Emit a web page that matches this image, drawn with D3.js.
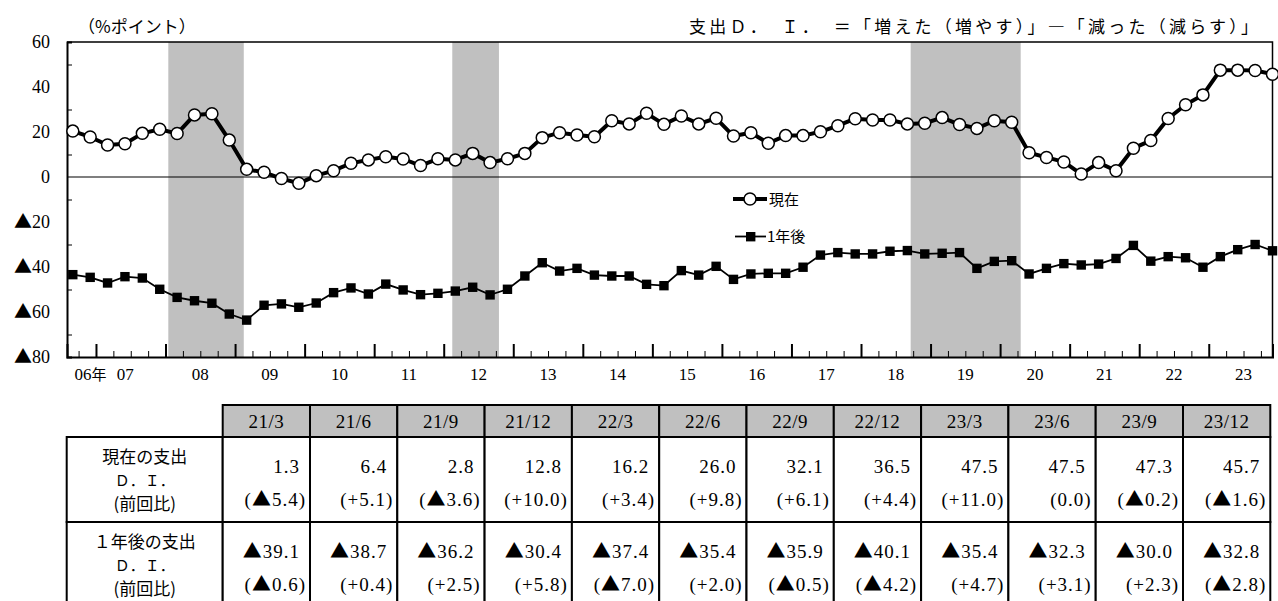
<!DOCTYPE html>
<html><head><meta charset="utf-8">
<script src="https://cdn.jsdelivr.net/npm/d3@7"></script>
<style>
body{margin:0;background:#fff;}
svg{display:block;}
.num{font-family:"Liberation Serif","DejaVu Serif",serif;}
.jp{font-family:"Noto Sans CJK JP","Noto Sans",sans-serif;}
</style></head><body>
<svg id="chart"></svg>
<script>
const W = 1278, H = 601;

// quarterly survey, Sep 2006 .. Dec 2023 (Mar/Jun/Sep/Dec)
const FIRST_YEAR = 2006, FIRST_Q = 2;
const genzai = [
  20.4, 17.8,
  14.2, 14.8, 19.4, 21.2,
  19.3, 27.6, 28.1, 16.4,
  3.4, 2.1, -0.7, -2.8,
  0.6, 2.8, 6.1, 7.6,
  9.0, 8.0, 5.1, 8.1,
  7.6, 10.5, 6.4, 8.1,
  10.5, 17.5, 19.7, 18.7,
  17.9, 25.0, 23.6, 28.3,
  23.4, 27.1, 23.6, 26.1,
  18.2, 19.7, 15.0, 18.4,
  18.4, 20.1, 22.8, 25.9,
  25.3, 25.3, 23.6, 23.9,
  26.4, 23.3, 21.6, 25.0,
  24.3, 10.8, 8.7, 6.7,
  1.3, 6.4, 2.8, 12.8,
  16.2, 26.0, 32.1, 36.5,
  47.5, 47.5, 47.3, 45.7
];
const ichinengo = [
  -43.4, -44.6,
  -47.1, -44.3, -44.9, -49.9,
  -53.5, -55.0, -56.1, -60.9,
  -63.6, -57.0, -56.4, -57.9,
  -56.0, -51.4, -49.3, -52.0,
  -47.6, -50.2, -52.3, -51.7,
  -50.7, -49.0, -52.4, -49.9,
  -44.0, -38.1, -41.8, -40.6,
  -43.6, -44.0, -44.0, -47.7,
  -48.3, -41.6, -43.6, -39.7,
  -45.5, -43.1, -42.8, -42.8,
  -40.1, -34.7, -33.6, -34.2,
  -34.2, -33.0, -32.7, -34.2,
  -33.9, -33.6, -40.6, -37.5,
  -37.2, -43.1, -40.6, -38.5,
  -39.1, -38.7, -36.2, -30.4,
  -37.4, -35.4, -35.9, -40.1,
  -35.4, -32.3, -30.0, -32.8
];
// recession periods (fractional years)
const bands = [[2008.04, 2009.125], [2012.123, 2012.794], [2018.714, 2020.296]];
const yTicks = [60, 40, 20, 0, -20, -40, -60, -80];
const yearLabels = ['06年','07','08','09','10','11','12','13','14','15','16','17','18','19','20','21','22','23'];
const tableCols = ['21/3','21/6','21/9','21/12','22/3','22/6','22/9','22/12','23/3','23/6','23/9','23/12'];
const rowLabels = [['現在の支出','Ｄ．Ｉ．','(前回比)'], ['１年後の支出','Ｄ．Ｉ．','(前回比)']];

const svg = d3.select('#chart').attr('width', W).attr('height', H);

const tOf = i => { const k = FIRST_Q + i; return FIRST_YEAR + Math.floor(k/4) + ((k%4)*3 + 2)/12; };

// write a number string, drawing the ▲ with the CJK font (full width, like the original)
function tri(sel, s) {
  sel.text(null);
  s.split(/(▲)/).filter(p => p).forEach(p => {
    const t = sel.append('tspan').text(p);
    if (p === '▲') t.attr('class', 'jp');
  });
}

const x = d3.scaleLinear().domain([2006 + 7/12, 2023 + 11/12]).range([67, 1272.5]);
const y = d3.scaleLinear().domain([-80, 60]).range([357, 42]);

// bands
svg.append('g').selectAll('rect').data(bands).join('rect')
  .attr('x', d => x(d[0])).attr('width', d => x(d[1]) - x(d[0]))
  .attr('y', y(60)).attr('height', y(-80) - y(60)).attr('fill', '#c0c0c0');

// frame
svg.append('path').attr('fill','none').attr('stroke','#000').attr('stroke-width',1.5)
  .attr('d', `M${x.range()[0]},${y(60)}H${x.range()[1]}V${y(-80)}`);
svg.append('line').attr('x1', x.range()[0]).attr('x2', x.range()[1])
  .attr('y1', y(0)).attr('y2', y(0)).attr('stroke','#000').attr('stroke-width',1.2);

// y axis
const yAx = svg.append('g').attr('transform', `translate(${x.range()[0]},0)`)
  .call(d3.axisLeft(y).tickValues(d3.range(-70, 60, 20)).tickSize(-5).tickFormat(''));
yAx.select('.domain').attr('stroke-width', 2);
svg.append('g').selectAll('text').data(yTicks).join('text')
  .attr('class','num').attr('x', 50).attr('y', d => y(d) + 6)
  .attr('text-anchor','end').attr('font-size', 18)
  .each(function(d) { tri(d3.select(this), d < 0 ? '▲' + (-d) : String(d)); });

// x axis
const majors = d3.range(2007, 2024);
const minors = d3.range(2006.75, 2023.9, 0.25).filter(v => v % 1 !== 0);
const xAx = svg.append('g').attr('transform', `translate(0,${y(-80)})`);
xAx.call(d3.axisBottom(x).tickValues(majors).tickSize(-13).tickFormat(''));
xAx.select('.domain').attr('stroke-width', 2);
xAx.selectAll('.tick line').attr('stroke-width', 2);
const xm = svg.append('g').attr('transform', `translate(0,${y(-80)})`)
  .call(d3.axisBottom(x).tickValues(minors).tickSize(-6).tickFormat(''));
xm.select('.domain').remove();
svg.append('g').selectAll('text').data(yearLabels).join('text')
  .attr('x', (d, i) => x(i === 0 ? 2006.92 : i === 1 ? 2007.42 : 2006 + i + 0.5))
  .attr('y', 380).attr('text-anchor','middle').attr('font-size', 17)
  .attr('class', 'num')
  .each(function(d) {
    const t = d3.select(this);
    if (d.endsWith('年')) {
      t.append('tspan').text(d.slice(0, -1));
      t.append('tspan').attr('class','jp').attr('font-size', 15).text('年');
    } else t.text(d);
  });

// series
const line = d3.line().x((d, i) => x(tOf(i))).y(d => y(d));
svg.append('path').datum(ichinengo).attr('d', line)
  .attr('fill','none').attr('stroke','#000').attr('stroke-width',1.8);
svg.append('path').datum(genzai).attr('d', line)
  .attr('fill','none').attr('stroke','#000').attr('stroke-width',4).attr('stroke-linejoin','round');
svg.append('g').selectAll('rect').data(ichinengo).join('rect')
  .attr('x', (d, i) => x(tOf(i)) - 4.7).attr('y', d => y(d) - 4.7)
  .attr('width', 9.4).attr('height', 9.4).attr('fill', '#000');
svg.append('g').selectAll('circle').data(genzai).join('circle')
  .attr('cx', (d, i) => x(tOf(i))).attr('cy', d => y(d)).attr('r', 6)
  .attr('fill','#fff').attr('stroke','#000').attr('stroke-width',1.5);

// legend
const lg = svg.append('g');
lg.append('line').attr('x1',733).attr('x2',767).attr('y1',199).attr('y2',199).attr('stroke','#000').attr('stroke-width',4);
lg.append('circle').attr('cx',750).attr('cy',199).attr('r',6).attr('fill','#fff').attr('stroke','#000').attr('stroke-width',1.5);
lg.append('text').attr('class','jp').attr('x',769).attr('y',204.5).attr('font-size',15).text('現在');
lg.append('line').attr('x1',735).attr('x2',766).attr('y1',236.5).attr('y2',236.5).attr('stroke','#000').attr('stroke-width',1.8);
lg.append('rect').attr('x',746).attr('y',232).attr('width',9.4).attr('height',9.4).attr('fill','#000');
lg.append('text').attr('class','jp').attr('x',767).attr('y',242).attr('font-size',15).text('1年後');

// titles
svg.append('text').attr('class','jp').attr('x',78).attr('y',33).attr('font-size',17).text('（%ポイント）');
svg.append('text').attr('class','jp').attr('x',689).attr('y',33).attr('font-size',17)
  .attr('textLength', 569).attr('lengthAdjust','spacing')
  .text('支出Ｄ．　Ｉ．　＝「増えた（増やす）」―「減った（減らす）」');

// table
const tx0 = 222.7, colW = 87.3, labX0 = 66.7;
const hy0 = 405, hy1 = 437, rowH = 85;
const tb = svg.append('g');
const fmtV = v => (v < 0 ? '▲' : '') + Math.abs(v).toFixed(1);
const fmtC = v => { const r = Math.round(v*10)/10; return '(' + (r < 0 ? '▲' : r > 0 ? '+' : '') + Math.abs(r).toFixed(1) + ')'; };
const n = genzai.length;
const rows = [genzai, ichinengo].map(s => tableCols.map((c, j) => {
  const k = n - tableCols.length + j;
  return {v: s[k], c: s[k] - s[k-1]};
}));

tb.selectAll('rect.h').data(tableCols).join('rect')
  .attr('x', (d, j) => tx0 + j*colW).attr('y', hy0).attr('width', colW).attr('height', hy1 - hy0)
  .attr('fill','#c0c0c0').attr('stroke','#000').attr('stroke-width',2);
tb.selectAll('text.h').data(tableCols).join('text')
  .attr('class','num').attr('x', (d, j) => tx0 + j*colW + colW/2).attr('y', 428)
  .attr('text-anchor','middle').attr('font-size',19).attr('letter-spacing',0.5).text(d => d);

rows.forEach((r, ri) => {
  const ry = hy1 + ri*rowH;
  tb.append('rect').attr('x', labX0).attr('y', ry).attr('width', tx0 - labX0).attr('height', rowH)
    .attr('fill','#fff').attr('stroke','#000').attr('stroke-width',2);
  const lt = rowLabels[ri];
  const lys = [ry + 26, ry + 49, ry + 73];
  lt.forEach((s, li) => {
    tb.append('text').attr('class','jp').attr('x', (labX0 + tx0)/2).attr('y', lys[li])
      .attr('text-anchor','middle').attr('font-size', li === 1 ? 15 : 17).text(s);
  });
  tb.selectAll(null).data(r).join('rect')
    .attr('x', (d, j) => tx0 + j*colW).attr('y', ry).attr('width', colW).attr('height', rowH)
    .attr('fill','#fff').attr('stroke','#000').attr('stroke-width',2);
  tb.selectAll(null).data(r).join('text')
    .attr('class','num').attr('x', (d, j) => tx0 + (j+1)*colW - 10).attr('y', ry + 36)
    .attr('text-anchor','end').attr('font-size',19).attr('letter-spacing',1)
    .each(function(d) { tri(d3.select(this), fmtV(d.v)); });
  tb.selectAll(null).data(r).join('text')
    .attr('class','num').attr('x', (d, j) => tx0 + (j+1)*colW - 4).attr('y', ry + 69)
    .attr('text-anchor','end').attr('font-size',19).attr('letter-spacing',1)
    .each(function(d) { tri(d3.select(this), fmtC(d.c)); });
});
</script>
</body></html>
